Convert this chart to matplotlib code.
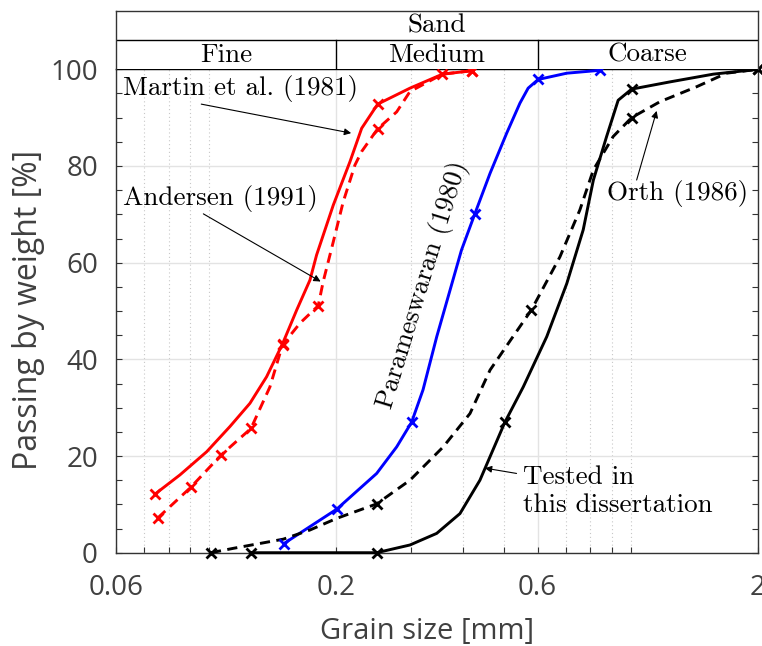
import matplotlib
matplotlib.use('Agg')
import matplotlib.pyplot as plt
from matplotlib.ticker import FixedLocator, MultipleLocator, LogLocator, NullFormatter

# Grain size distributions
# Martin et al. (1981) - red solid
martin_x = [0.0742, 0.0851, 0.0985, 0.1118, 0.1247, 0.1366, 0.149, 0.161, 0.1731,
            0.1795, 0.1966, 0.2154, 0.2296, 0.2506, 0.2989, 0.357, 0.419]
martin_y = [12.1, 16.1, 20.9, 26.1, 30.9, 36.4, 43.2, 50.2, 56.4,
            61.6, 71.9, 80.9, 87.8, 92.8, 96.1, 99.0, 99.7]
martin_mx = [0.0742, 0.149, 0.2506, 0.419]
martin_my = [12.1, 43.2, 92.8, 99.7]

# Andersen (1991) - red dashed
andersen_x = [0.0754, 0.0902, 0.1065, 0.1254, 0.1391, 0.149, 0.164, 0.1811, 0.1861,
              0.1966, 0.2076, 0.2213, 0.2296, 0.2506, 0.278, 0.2989, 0.357, 0.419]
andersen_y = [7.2, 13.5, 20.2, 25.7, 34.3, 43.0, 47.5, 51.1, 56.1,
              64.3, 72.6, 80.2, 83.0, 87.7, 91.2, 95.4, 99.0, 99.7]
andersen_mx = [0.0754, 0.0902, 0.1065, 0.1254, 0.149, 0.1811, 0.2506, 0.357, 0.419]
andersen_my = [7.2, 13.5, 20.2, 25.7, 43.0, 51.1, 87.7, 99.0, 99.7]

# Parameswaran (1980) - blue
param_x = [0.1502, 0.1731, 0.2003, 0.2492, 0.278, 0.3016, 0.321, 0.346, 0.372, 0.396,
           0.426, 0.463, 0.507, 0.545, 0.570, 0.602, 0.704, 0.845]
param_y = [1.9, 5.4, 9.0, 16.4, 21.9, 27.0, 33.7, 44.7, 54.3, 62.6,
           70.1, 78.5, 86.8, 93.0, 96.1, 97.9, 99.2, 99.8]
param_mx = [0.1502, 0.2003, 0.3016, 0.426, 0.602, 0.845]
param_my = [1.9, 9.0, 27.0, 70.1, 97.9, 99.8]

# Tested in this dissertation - black solid
tested_x = [0.1254, 0.2492, 0.2989, 0.3459, 0.3928, 0.438, 0.502, 0.555, 0.631,
            0.704, 0.77, 0.814, 0.875, 0.932, 1.003, 1.237, 1.567, 2.0]
tested_y = [0.0, 0.0, 1.6, 4.0, 8.1, 15.0, 27.0, 34.3, 44.7,
            55.7, 66.8, 77.1, 86.1, 93.6, 95.9, 97.4, 99.0, 100.0]
tested_mx = [0.1254, 0.2492, 0.502, 1.003, 2.0]
tested_my = [0.0, 0.0, 27.0, 95.9, 100.0]

# Orth (1986) - black dashed
orth_x = [0.1008, 0.1138, 0.1496, 0.1731, 0.2003, 0.2492, 0.2989, 0.3585, 0.4149,
          0.463, 0.518, 0.58, 0.678, 0.756, 0.814, 0.907, 1.003, 1.171,
          1.431, 1.685, 2.0]
orth_y = [0.0, 0.9, 2.8, 4.7, 7.1, 10.1, 15.0, 21.9, 28.8,
          37.8, 44.0, 50.2, 61.2, 70.9, 79.2, 86.1, 90.0, 93.3,
          96.4, 99.2, 100.0]
orth_mx = [0.1008, 0.2492, 0.58, 1.003, 2.0]
orth_my = [0.0, 10.1, 50.2, 90.0, 100.0]

x_ticks = [0.06, 0.2, 0.6, 2]
x_ticklabels = ['0.06', '0.2', '0.6', '2']
classes = ['Fine', 'Medium', 'Coarse']
class_bounds = [0.06, 0.2, 0.6, 2]

SERIF = 'cmr10'
SANS = 'Open Sans'
GREY = '#404040'

fig = plt.figure(figsize=(7.62, 6.46), dpi=100)
ax = fig.add_axes([0.1522, 0.1444, 0.8425, 0.7483])
ax.set_xscale('log')
ax.set_xlim(0.06, 2)
ax.set_ylim(0, 100)

dash = (3.5, 2.2)
series = [
    (martin_x, martin_y, martin_mx, martin_my, 'red', '-'),
    (andersen_x, andersen_y, andersen_mx, andersen_my, 'red', '--'),
    (param_x, param_y, param_mx, param_my, 'blue', '-'),
    (tested_x, tested_y, tested_mx, tested_my, 'black', '-'),
    (orth_x, orth_y, orth_mx, orth_my, 'black', '--'),
]
for cx, cy, mx, my, col, ls in series:
    line, = ax.plot(cx, cy, color=col, lw=2.1, ls=ls, clip_on=False, zorder=3,
                    solid_capstyle='butt', solid_joinstyle='round')
    if ls == '--':
        line.set_dashes(dash)
    ax.plot(mx, my, ls='none', marker='x', ms=7, mew=2.0, color=col,
            clip_on=False, zorder=4)

# ticks
ax.xaxis.set_major_locator(FixedLocator(x_ticks))
ax.set_xticklabels(x_ticklabels)
ax.xaxis.set_minor_locator(LogLocator(base=10, subs=range(1, 10)))
ax.xaxis.set_minor_formatter(NullFormatter())
ax.yaxis.set_major_locator(MultipleLocator(20))
ax.yaxis.set_minor_locator(MultipleLocator(5))
ax.tick_params(axis='both', which='both', direction='in', colors='#333333',
               labelcolor=GREY, labelsize=20, length=4, width=0.8)
ax.tick_params(axis='x', which='both', top=False, pad=15)
ax.tick_params(axis='y', which='both', right=True, pad=13)
for lab in ax.get_xticklabels() + ax.get_yticklabels():
    lab.set_fontfamily(SANS)

# grid
ax.grid(True, which='major', color='#e3e3e3', lw=1.0, ls='-', zorder=0)
ax.grid(True, which='minor', axis='x', color='#c8c8c8', lw=0.8, ls=(0, (1, 2.5)), zorder=0)
ax.set_axisbelow(True)

for side in ['left', 'right', 'bottom']:
    ax.spines[side].set_color('#333333')
    ax.spines[side].set_linewidth(1.0)
ax.spines['top'].set_color('black')
ax.spines['top'].set_linewidth(1.0)

ax.set_xlabel('Grain size [mm]', fontfamily=SANS, fontsize=21, color=GREY, va='center')
ax.xaxis.set_label_coords(0.485, -0.163)
ax.set_ylabel('Passing by weight [%]', fontfamily=SANS, fontsize=23, color=GREY,
              va='center', ha='center')
ax.yaxis.set_label_coords(-0.137, 0.502)

# annotations
fs = 19.5
arrow = dict(arrowstyle='-|>', lw=0.8, color='black', mutation_scale=10,
             shrinkA=0, shrinkB=0)
ax.text(0.0623, 96.1, 'Martin et al. (1981)', fontfamily=SERIF, fontsize=fs,
        ha='left', va='center', zorder=5)
ax.annotate('', xy=(0.2168, 86.8), xytext=(0.0956, 92.8), arrowprops=arrow)
ax.text(0.0625, 73.3, 'Andersen (1991)', fontfamily=SERIF, fontsize=fs,
        ha='left', va='center', zorder=5)
ax.annotate('', xy=(0.1835, 56.1), xytext=(0.0967, 70.1), arrowprops=arrow)
ax.text(0.321, 55.4, 'Parameswaran (1980)', fontfamily=SERIF, fontsize=fs,
        ha='center', va='center', rotation=73, rotation_mode='anchor', zorder=5)
ax.text(1.29, 74.3, 'Orth (1986)', fontfamily=SERIF, fontsize=fs,
        ha='center', va='center', zorder=5)
ax.annotate('', xy=(1.15, 91.4), xytext=(1.031, 77.1), arrowprops=arrow)
ax.text(0.553, 12.7, 'Tested in\nthis dissertation', fontfamily=SERIF, fontsize=fs,
        ha='left', va='center', linespacing=1.25, zorder=5)
ax.annotate('', xy=(0.450, 17.5), xytext=(0.535, 16.4), arrowprops=arrow)

# header with soil classes
hx = fig.add_axes([0.1522, 0.8927, 0.8425, 0.0906])
hx.set_xscale('log')
hx.set_xlim(0.06, 2)
hx.set_ylim(0, 2)
hx.set_xticks([])
hx.set_yticks([])
hx.xaxis.set_minor_locator(FixedLocator([]))
for side in ['left', 'right', 'top']:
    hx.spines[side].set_color('#333333')
    hx.spines[side].set_linewidth(1.0)
hx.spines['bottom'].set_visible(False)
hx.axhline(1, color='black', lw=1.0)
for b in class_bounds[1:-1]:
    hx.plot([b, b], [0, 1], color='black', lw=1.0)
hx.text((class_bounds[0] * class_bounds[-1]) ** 0.5, 1.5, 'Sand', fontfamily=SERIF,
        fontsize=fs, ha='center', va='center')
for i, name in enumerate(classes):
    xc = (class_bounds[i] * class_bounds[i + 1]) ** 0.5
    hx.text(xc, 0.5, name, fontfamily=SERIF, fontsize=fs, ha='center', va='center')

fig.savefig('out.png', dpi=100)
